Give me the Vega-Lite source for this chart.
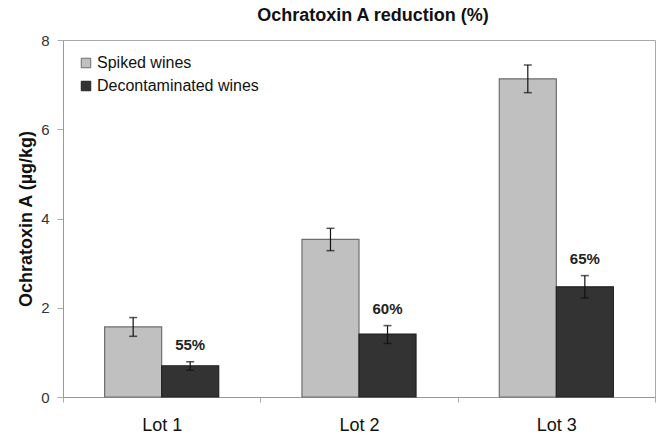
{
  "$schema": "https://vega.github.io/schema/vega-lite/v6.json",
  "autosize": "none",
  "width": 592,
  "height": 357,
  "padding": {"left": 63, "top": 40, "right": 1, "bottom": 38},
  "background": "white",
  "title": {
    "text": "Ochratoxin A reduction (%)",
    "font": "Liberation Sans",
    "fontSize": 18,
    "fontWeight": "bold",
    "color": "#111",
    "anchor": "middle",
    "dx": 14,
    "offset": 8
  },
  "data": {
    "values": [
      {"lot": "Lot 1", "group": "Spiked wines", "value": 1.57, "lo": 1.36, "hi": 1.78, "label": ""},
      {"lot": "Lot 1", "group": "Decontaminated wines", "value": 0.70, "lo": 0.60, "hi": 0.79, "label": "55%"},
      {"lot": "Lot 2", "group": "Spiked wines", "value": 3.53, "lo": 3.28, "hi": 3.78, "label": ""},
      {"lot": "Lot 2", "group": "Decontaminated wines", "value": 1.41, "lo": 1.20, "hi": 1.60, "label": "60%"},
      {"lot": "Lot 3", "group": "Spiked wines", "value": 7.13, "lo": 6.82, "hi": 7.44, "label": ""},
      {"lot": "Lot 3", "group": "Decontaminated wines", "value": 2.47, "lo": 2.22, "hi": 2.72, "label": "65%"}
    ]
  },
  "encoding": {
    "x": {
      "field": "lot",
      "type": "nominal",
      "scale": {"paddingInner": 0, "paddingOuter": 0},
      "axis": {
        "title": null,
        "labelAngle": 0,
        "labelFont": "Liberation Sans",
        "labelFontSize": 18,
        "labelColor": "#111",
        "labelPadding": 14,
        "tickBand": "extent",
        "tickSize": 5,
        "tickColor": "#aaa",
        "domainColor": "#999",
        "grid": false
      }
    },
    "xOffset": {
      "field": "group",
      "type": "nominal",
      "sort": ["Spiked wines", "Decontaminated wines"],
      "scale": {"paddingInner": 0, "paddingOuter": 0.73}
    }
  },
  "layer": [
    {
      "mark": {"type": "bar", "strokeWidth": 1.2},
      "encoding": {
        "y": {
          "field": "value",
          "type": "quantitative",
          "scale": {"domain": [0, 8]},
          "axis": {
            "title": "Ochratoxin A (µg/kg)",
            "titleFont": "Liberation Sans",
            "titleFontSize": 18,
            "titleFontWeight": "bold",
            "titleColor": "#111",
            "titlePadding": 5,
            "values": [0, 2, 4, 6, 8],
            "labelFont": "Liberation Sans",
            "labelFontSize": 15,
            "labelColor": "#333",
            "labelPadding": 8,
            "tickSize": 6,
            "tickColor": "#aaa",
            "domainColor": "#999",
            "grid": false
          }
        },
        "color": {
          "field": "group",
          "type": "nominal",
          "sort": ["Spiked wines", "Decontaminated wines"],
          "scale": {"domain": ["Spiked wines", "Decontaminated wines"], "range": ["#c0c0c0", "#333333"]},
          "legend": {
            "title": null,
            "orient": "top-left",
            "offset": 15,
            "padding": 0,
            "symbolType": "square",
            "symbolSize": 90,
            "symbolStrokeColor": "#555",
            "symbolStrokeWidth": 1,
            "labelFont": "Liberation Sans",
            "labelFontSize": 16,
            "labelColor": "#111",
            "labelLimit": 400,
            "rowPadding": 7,
            "labelOffset": 3
          }
        },
        "stroke": {
          "field": "group",
          "type": "nominal",
          "scale": {"domain": ["Spiked wines", "Decontaminated wines"], "range": ["#6e6e6e", "#222222"]},
          "legend": null
        }
      }
    },
    {
      "mark": {"type": "rule", "color": "#111", "strokeWidth": 1.2},
      "encoding": {
        "y": {"field": "lo", "type": "quantitative"},
        "y2": {"field": "hi"}
      }
    },
    {
      "mark": {"type": "tick", "color": "#111", "size": 8, "thickness": 1.5},
      "encoding": {
        "y": {"field": "lo", "type": "quantitative"}
      }
    },
    {
      "mark": {"type": "tick", "color": "#111", "size": 8, "thickness": 1.5},
      "encoding": {
        "y": {"field": "hi", "type": "quantitative"}
      }
    },
    {
      "mark": {"type": "text", "font": "Liberation Sans", "fontSize": 15, "fontWeight": "bold", "color": "#222", "baseline": "middle", "dy": -17},
      "encoding": {
        "y": {"field": "hi", "type": "quantitative"},
        "text": {"field": "label"}
      }
    }
  ],
  "config": {
    "view": {"stroke": "#aaa", "strokeWidth": 1}
  }
}
